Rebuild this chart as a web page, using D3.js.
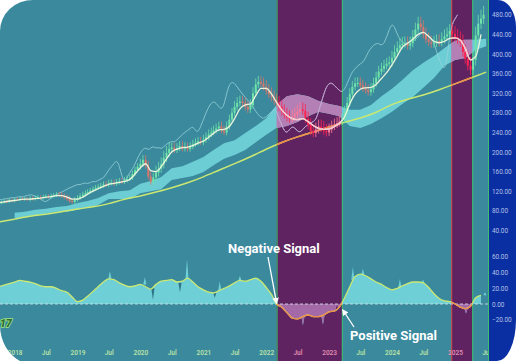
<!DOCTYPE html>
<html>
<head>
<meta charset="utf-8">
<script src="https://cdn.jsdelivr.net/npm/d3@7"></script>
<style>
  body { margin: 0; background: #fff; }
  svg { display: block; }
</style>
</head>
<body>
<div id="chart"></div>
<script>
const W = 516, H = 361;

// ---- data ----
const startDate = '2017-10-01';

// closes, twice a month (1st and 16th) from Oct 2017
const closes = [
  96, 97, 99, 98, 101, 100, 103, 102, 104, 103,
  104, 102, 105, 104, 106, 107, 106, 108, 109, 108,
  110, 111, 113, 112, 110, 107, 104, 100, 98, 102,
  106, 110, 113, 116, 118, 121, 124, 127, 129, 131,
  134, 133, 136, 137, 135, 138, 140, 139, 142, 145,
  147, 155, 163, 170, 176, 184, 172, 150, 139, 148,
  158, 166, 175, 188, 198, 206, 209, 204, 208, 212,
  207, 210, 206, 211, 216, 219, 222, 220, 225, 230,
  236, 240, 244, 248, 252, 244, 240, 252, 266, 280,
  292, 300, 303, 300, 292, 287, 296, 320, 338, 343,
  340, 333, 325, 318, 312, 305, 300, 292, 283, 276,
  271, 268, 272, 277, 282, 287, 284, 268, 255, 243,
  239, 246, 252, 249, 243, 240, 246, 252, 256, 259,
  262, 266, 282, 300, 318, 333, 340, 341, 336, 330,
  326, 322, 328, 340, 352, 364, 370, 376, 380, 383,
  392, 404, 412, 418, 421, 422, 417, 422, 435, 450,
  462, 455, 440, 430, 424, 421, 423, 426, 424, 430,
  436, 440, 447, 441, 435, 430, 424, 404, 390, 376,
  368, 388, 438, 462, 472, 480
];

// typical wick length of the candles, per quarter from Oct 2017
const wicks = [
  4, 4, 5, 5, 6, 6, 6, 7, 7, 10,
  14, 10, 9, 10, 10, 12, 12, 14, 14, 14,
  14, 12, 12, 12, 12, 14, 14, 14, 14, 16,
  18, 16
];

// fast moving average, monthly from Oct 2017
const fastMA = [
  97, 98, 100, 101, 103, 104, 104, 105, 106, 108,
  109, 111, 111, 108, 104, 104, 108, 114, 120, 125,
  130, 134, 136, 138, 140, 144, 155, 168, 176, 162,
  160, 170, 186, 200, 206, 209, 210, 213, 218, 222,
  230, 238, 245, 246, 252, 268, 288, 296, 298, 315,
  330, 330, 318, 302, 286, 275, 268, 266, 268, 262,
  254, 248, 246, 247, 252, 258, 272, 298, 318, 328,
  331, 332, 338, 350, 362, 378, 396, 414, 422, 430,
  440, 444, 436, 426, 423, 426, 432, 433, 428, 412,
  388, 395, 440
];

// long moving average, quarterly from Oct 2017
const longMA = [
  57, 63, 69, 73, 78, 84, 88, 94, 104, 110,
  118, 127, 137, 149, 163, 176, 190, 206, 220, 231,
  241, 251, 261, 269, 280, 298, 308, 316, 327, 339,
  351, 363
];

// cloud edges, every two months from Jan 2018
const cloudTop = [
  76, 78, 82, 84, 88, 90, 96, 100, 106, 116,
  120, 122, 135, 141, 149, 167, 171, 180, 190, 204,
  218, 224, 239, 253, 269, 296, 314, 318, 314, 304,
  298, 294, 286, 286, 296, 314, 329, 347, 367, 382,
  396, 412, 427, 429, 429, 431
];
const cloudBottom = [
  65, 67, 71, 74, 78, 78, 82, 86, 92, 104,
  104, 104, 116, 120, 124, 143, 147, 151, 159, 173,
  186, 194, 204, 220, 235, 249, 253, 261, 273, 282,
  278, 273, 253, 249, 257, 269, 282, 298, 312, 331,
  351, 376, 388, 392, 408, 416
];

// oscillator, monthly from Oct 2017
const osc = [
  22, 24, 26, 28, 30, 29, 28, 26, 23, 22,
  22, 20, 17, 15, 9, 3, 5, 10, 16, 22,
  28, 32, 31, 27, 24, 22, 23, 25, 22, 19,
  25, 29, 30, 31, 28, 29, 33, 28, 22, 18,
  15, 14, 17, 20, 23, 27, 30, 29, 31, 33,
  29, 21, 12, 0, -4, -11, -18, -19, -16, -14,
  -16, -16, -14, -10, -9, -4, 8, 22, 35, 38,
  36, 32, 28, 25, 21, 18, 20, 23, 26, 28,
  28, 27, 21, 13, 7, 4, 3, 0, -4, -6,
  -3, 8, 11
];

// short spikes of the raw oscillator: date, value at the line, tip value
const spikeDates = ['2019-07-08', '2020-01-27', '2020-03-14', '2020-08-18', '2020-09-28',
  '2021-03-08', '2021-04-06', '2021-08-01', '2022-08-02', '2022-11-26', '2023-02-16',
  '2023-05-19', '2023-07-16', '2024-02-16', '2024-06-29', '2025-03-06', '2025-06-24'];
const spikeBase = [32, 25, 20, 27, 31, 14, 17, 30, -16, -15, -8, 31, 37, 21, 27, -6, 11];
const spikeTip = [42, 34, 5, 15, 57, 8, 29, 36, -27, -26, -1, 47, 45, 32, 31, -12, 15];

const negSignals = ['2022-03-02', '2024-12-10'];
const posSignals = ['2023-03-16', '2025-04-11'];

const priceTicks = [40, 80, 120, 160, 200, 240, 280, 320, 360, 400, 440, 480];
const oscTicks = [-20, 0, 20, 40, 60];
const timeTicks = ['2018-01-01', '2018-07-01', '2019-01-01', '2019-07-01', '2020-01-01', '2020-07-01',
  '2021-01-01', '2021-07-01', '2022-01-01', '2022-07-01', '2023-01-01', '2023-07-01',
  '2024-01-01', '2024-07-01', '2025-01-01', '2025-07-01'];

// ---- setup ----
const parse = d3.utcParse('%Y-%m-%d');
const t0 = parse(startDate);
const semiDate = i => d3.utcDay.offset(d3.utcMonth.offset(t0, Math.floor(i / 2)), (i % 2) * 15);
const monthDate = m => d3.utcMonth.offset(t0, m);

const plotRight = 489;

const x = d3.scaleUtc()
  .domain([parse('2019-01-01'), parse('2025-01-01')])
  .range([77.5, 455]);
const yP = d3.scaleLinear().domain([0, 480]).range([250, 14.8]);
const yO = d3.scaleLinear().domain([-20, 60]).range([319.7, 256.9]);

const zones = negSignals.map((d, k) => [parse(d), parse(posSignals[k])]);
const inZone = t => zones.some(z => t >= z[0] && t < z[1]);

const svg = d3.select('#chart').append('svg')
  .attr('width', W)
  .attr('height', H);

const defs = svg.append('defs');
defs.append('clipPath').attr('id', 'plotClip')
  .append('rect').attr('x', 0).attr('y', 0).attr('width', plotRight).attr('height', H);
defs.append('clipPath').attr('id', 'purpleClip')
  .selectAll('rect')
  .data(zones)
  .join('rect')
  .attr('x', d => x(d[0]))
  .attr('y', 0)
  .attr('width', d => x(d[1]) - x(d[0]))
  .attr('height', H);

const marker = defs.append('marker')
  .attr('id', 'arrow')
  .attr('viewBox', '0 0 10 10')
  .attr('refX', 8).attr('refY', 5)
  .attr('markerWidth', 5).attr('markerHeight', 5)
  .attr('orient', 'auto');
marker.append('path').attr('d', 'M0,0 L10,5 L0,10 Z').attr('fill', '#ffffff');

// background
svg.append('rect').attr('width', W).attr('height', H).attr('fill', '#3a899d');

const plot = svg.append('g').attr('clip-path', 'url(#plotClip)');

plot.selectAll('rect.zone')
  .data(zones)
  .join('rect')
  .attr('class', 'zone')
  .attr('x', d => x(d[0]))
  .attr('y', 0)
  .attr('width', d => x(d[1]) - x(d[0]))
  .attr('height', H)
  .attr('fill', '#5f2362');

// zone edges
const edges = [];
zones.forEach((z, k) => {
  edges.push({ t: z[0], c: k === 0 ? '#3fbf6a' : '#d9534a' });
  edges.push({ t: z[1], c: '#3fbf6a' });
});
plot.selectAll('line.edge')
  .data(edges)
  .join('line')
  .attr('x1', d => x(d.t) + 0.5).attr('x2', d => x(d.t) + 0.5)
  .attr('y1', 0).attr('y2', H)
  .attr('stroke', d => d.c)
  .attr('stroke-width', 1);

// draw something once normally, and again inside the signal zones with other colours
function twice(draw, normal, alt) {
  draw(plot.append('g'), normal);
  draw(plot.append('g').attr('clip-path', 'url(#purpleClip)'), alt);
}

// x axis labels (under everything)
const xLabels = plot.append('g')
  .attr('transform', 'translate(0,350)')
  .call(d3.axisBottom(x)
    .tickValues(timeTicks.map(parse))
    .tickSize(0)
    .tickPadding(0)
    .tickFormat(d => d.getUTCMonth() === 0 ? d.getUTCFullYear() : 'Jul'));
xLabels.select('.domain').remove();
xLabels.selectAll('text')
  .attr('dy', '0.8em')
  .attr('font-family', 'Roboto, sans-serif')
  .attr('font-size', 6.5)
  .attr('font-weight', 600)
  .attr('fill', d => inZone(d) ? '#e08cb0' : '#b9e2a6');

// cloud
const cloudArea = d3.area()
  .x((d, k) => x(monthDate(3 + 2 * k)))
  .y0((d, k) => yP(cloudBottom[k]))
  .y1(d => yP(d));
twice((g, c) => g.append('path').datum(cloudTop).attr('d', cloudArea).attr('fill', c),
  '#6ccdd4', '#b47fb4');

// long moving average
const longLine = d3.line()
  .x((d, k) => x(d3.utcMonth.offset(t0, 3 * k)))
  .y(d => yP(d))
  .curve(d3.curveBasis);
twice((g, c) => g.append('path').datum(longMA).attr('d', longLine)
  .attr('fill', 'none').attr('stroke', c).attr('stroke-width', 1.5),
  '#cbe872', '#f08c4a');

// lagging line (closes moved back)
const lagLine = d3.line()
  .x((d, i) => x(semiDate(i - 10)))
  .y(d => yP(d))
  .curve(d3.curveBasis);
twice((g, c) => g.append('path').datum(closes).attr('d', lagLine)
  .attr('fill', 'none').attr('stroke', c).attr('stroke-width', 0.8),
  '#98d3da', '#d49bcd');

// candles
const candles = closes.map((c, i) => {
  const o = i ? closes[i - 1] : c;
  const w = wicks[Math.floor(i / 6)];
  return { t: semiDate(i), o, c, h: Math.max(o, c) + w, l: Math.min(o, c) - w * 0.6 };
});
const candleColor = d => inZone(d.t)
  ? (d.c >= d.o ? '#ff7a98' : '#ff2352')
  : (d.c >= d.o ? '#6fe3a9' : '#d9776c');
const candleG = plot.append('g');
candleG.selectAll('line')
  .data(candles)
  .join('line')
  .attr('x1', d => x(d.t)).attr('x2', d => x(d.t))
  .attr('y1', d => yP(d.h)).attr('y2', d => yP(d.l))
  .attr('stroke', candleColor)
  .attr('stroke-width', 0.8);
candleG.selectAll('rect')
  .data(candles)
  .join('rect')
  .attr('x', d => x(d.t) - 1)
  .attr('width', 2)
  .attr('y', d => yP(Math.max(d.o, d.c)))
  .attr('height', d => Math.max(1, Math.abs(yP(d.o) - yP(d.c))))
  .attr('fill', candleColor);

// fast moving average
const fastLine = d3.line()
  .x((d, m) => x(monthDate(m)))
  .y(d => yP(d))
  .curve(d3.curveMonotoneX);
twice((g, c) => g.append('path').datum(fastMA).attr('d', fastLine)
  .attr('fill', 'none').attr('stroke', c).attr('stroke-width', 1.3),
  '#eaf5dc', '#f6c8cc');

// oscillator area
const oscArea = d3.area()
  .x((d, m) => x(monthDate(m)))
  .y0(yO(0))
  .y1(d => yO(d))
  .curve(d3.curveMonotoneX);
const spikes = spikeDates.map((d, k) => ({ t: parse(d), b: spikeBase[k], v: spikeTip[k] }));
const spikePath = d => {
  const cx = x(d.t);
  return `M${cx - 1.6},${yO(d.b)} L${cx},${yO(d.v)} L${cx + 1.6},${yO(d.b)} Z`;
};
const grows = d => Math.abs(d.v) > Math.abs(d.b);
twice((g, c) => {
  g.append('path').datum(osc).attr('d', oscArea).attr('fill', c[0]);
  g.selectAll('path.spike')
    .data(spikes)
    .join('path')
    .attr('class', 'spike')
    .attr('d', spikePath)
    .attr('fill', d => grows(d) ? c[0] : c[1]);
}, ['#6fcfd6', '#2f7486'], ['#a46aa8', '#5f2362']);

plot.append('line')
  .attr('x1', 0).attr('x2', plotRight)
  .attr('y1', yO(0)).attr('y2', yO(0))
  .attr('stroke', '#d8e8ec')
  .attr('stroke-width', 1)
  .attr('stroke-dasharray', '3,2')
  .attr('opacity', 0.8);

const oscLine = d3.line()
  .x((d, m) => x(monthDate(m)))
  .y(d => yO(d))
  .curve(d3.curveMonotoneX);
twice((g, c) => g.append('path').datum(osc).attr('d', oscLine)
  .attr('fill', 'none').attr('stroke', c).attr('stroke-width', 1.3),
  '#cbe872', '#f08c4a');

// annotations
const notes = svg.append('g')
  .attr('font-family', 'Roboto, sans-serif')
  .attr('font-weight', 'bold')
  .attr('font-size', 13)
  .attr('fill', '#ffffff');
notes.append('text').attr('x', 228).attr('y', 253).text('Negative Signal');
notes.append('text').attr('x', 350).attr('y', 340).text('Positive Signal');

const z1 = zones[0];
notes.append('line')
  .attr('x1', 268).attr('y1', 257)
  .attr('x2', x(z1[0])).attr('y2', yO(0) - 1)
  .attr('stroke', '#ffffff').attr('stroke-width', 1.3)
  .attr('marker-end', 'url(#arrow)');
notes.append('line')
  .attr('x1', 354).attr('y1', 327)
  .attr('x2', x(z1[1]) + 1).attr('y2', yO(0) + 6)
  .attr('stroke', '#ffffff').attr('stroke-width', 1.3)
  .attr('marker-end', 'url(#arrow)');

// logo fragment bottom left
svg.append('text')
  .attr('x', 12).attr('y', 327)
  .attr('text-anchor', 'end')
  .attr('font-family', 'Roboto, sans-serif')
  .attr('font-weight', 900)
  .attr('font-style', 'italic')
  .attr('font-size', 11)
  .attr('fill', '#2f6e32')
  .attr('stroke', '#9fe682')
  .attr('stroke-width', 1.5)
  .attr('paint-order', 'stroke')
  .text('17');

// right axis panel
svg.append('rect')
  .attr('x', plotRight).attr('y', 0)
  .attr('width', W - plotRight).attr('height', H)
  .attr('fill', '#0a2fa3');
svg.append('line')
  .attr('x1', plotRight - 0.5).attr('x2', plotRight - 0.5)
  .attr('y1', 0).attr('y2', H)
  .attr('stroke', '#3fbf6a');

const axisP = svg.append('g')
  .attr('transform', `translate(${plotRight},0)`)
  .call(d3.axisRight(yP).tickValues(priceTicks).tickSize(0).tickPadding(3).tickFormat(d3.format('.2f')));
const axisO = svg.append('g')
  .attr('transform', `translate(${plotRight},0)`)
  .call(d3.axisRight(yO).tickValues(oscTicks).tickSize(0).tickPadding(3).tickFormat(d3.format('.2f')));
[axisP, axisO].forEach(a => {
  a.select('.domain').remove();
  a.selectAll('text')
    .attr('font-family', 'Roboto, sans-serif')
    .attr('font-size', 6.4)
    .attr('fill', '#b3c1e6');
});

// white rounded corners
const corners = [
  'M0,0 L33,0 A33,31 0 0 0 0,31 Z',
  'M498,0 L516,0 L516,27 A18,27 0 0 0 498,0 Z',
  'M516,320 L516,361 L497,361 A19,41 0 0 0 516,320 Z',
  'M0,325 C0,342 9,355 20,361 L0,361 Z'
];
svg.selectAll('path.corner')
  .data(corners)
  .join('path')
  .attr('class', 'corner')
  .attr('d', d => d)
  .attr('fill', '#ffffff');
</script>
</body>
</html>
